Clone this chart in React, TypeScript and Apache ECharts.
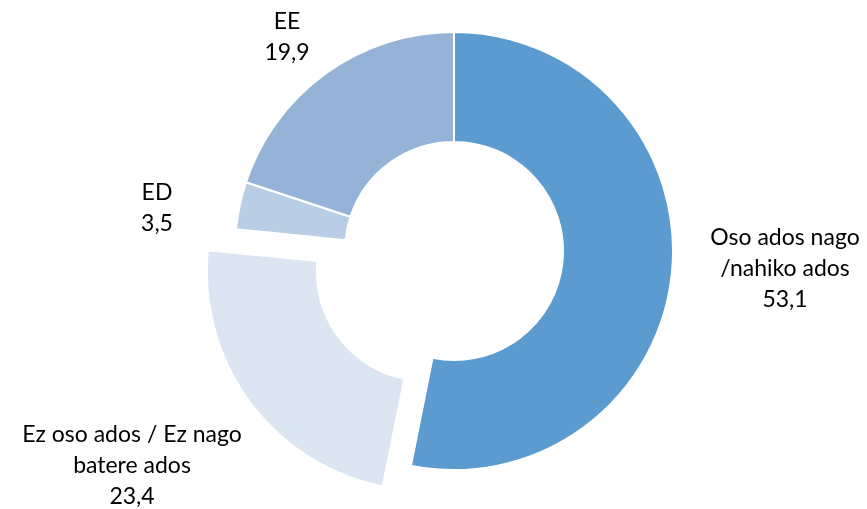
import React, { useEffect, useRef } from "react";
import * as echarts from "echarts";

const categories = [
  "Oso ados nago\n/nahiko ados",
  "Ez oso ados / Ez nago\nbatere ados",
  "ED",
  "EE",
];
const values = [53.1, 23.4, 3.5, 19.9];
const colors = ["#5B9BD0", "#DCE6F2", "#B9CDE5", "#95B3D7"];
const exploded = [false, true, false, false];

// label anchor positions (centre of text block), in px
const labelPos = [
  { x: 785, y: 267 },
  { x: 132, y: 464 },
  { x: 157, y: 206 },
  { x: 287, y: 35 },
];

const fmt = (v: number) => v.toFixed(1).replace(".", ",");

export default function App() {
  const ref = useRef<HTMLDivElement>(null);
  useEffect(() => {
    if (!ref.current) return;
    const chart = echarts.init(ref.current, null, { renderer: "svg" });
    chart.setOption({
      animation: false,
      graphic: categories.map((c, i) => ({
        type: "text",
        x: labelPos[i].x,
        y: labelPos[i].y,
        silent: true,
        style: {
          text: c + "\n" + fmt(values[i]),
          fontFamily: "Lato",
          fontSize: 23,
          lineHeight: 31,
          fill: "#000000",
          align: "center",
          verticalAlign: "middle",
        },
      })),
      series: [
        {
          type: "pie",
          center: [454, 251],
          radius: [109, 219],
          startAngle: 90,
          clockwise: true,
          selectedMode: "multiple",
          selectedOffset: 35,
          avoidLabelOverlap: false,
          emphasis: { disabled: true },
          itemStyle: { borderColor: "#ffffff", borderWidth: 2 },
          label: { show: false },
          labelLine: { show: false },
          data: categories.map((c, i) => ({
            name: c,
            value: values[i],
            selected: exploded[i],
            itemStyle: { color: colors[i] },
          })),
        },
      ],
    });
    return () => chart.dispose();
  }, []);
  return (
    <div
      ref={ref}
      style={{ position: "fixed", left: 0, top: 0, width: 867, height: 509 }}
    />
  );
}
